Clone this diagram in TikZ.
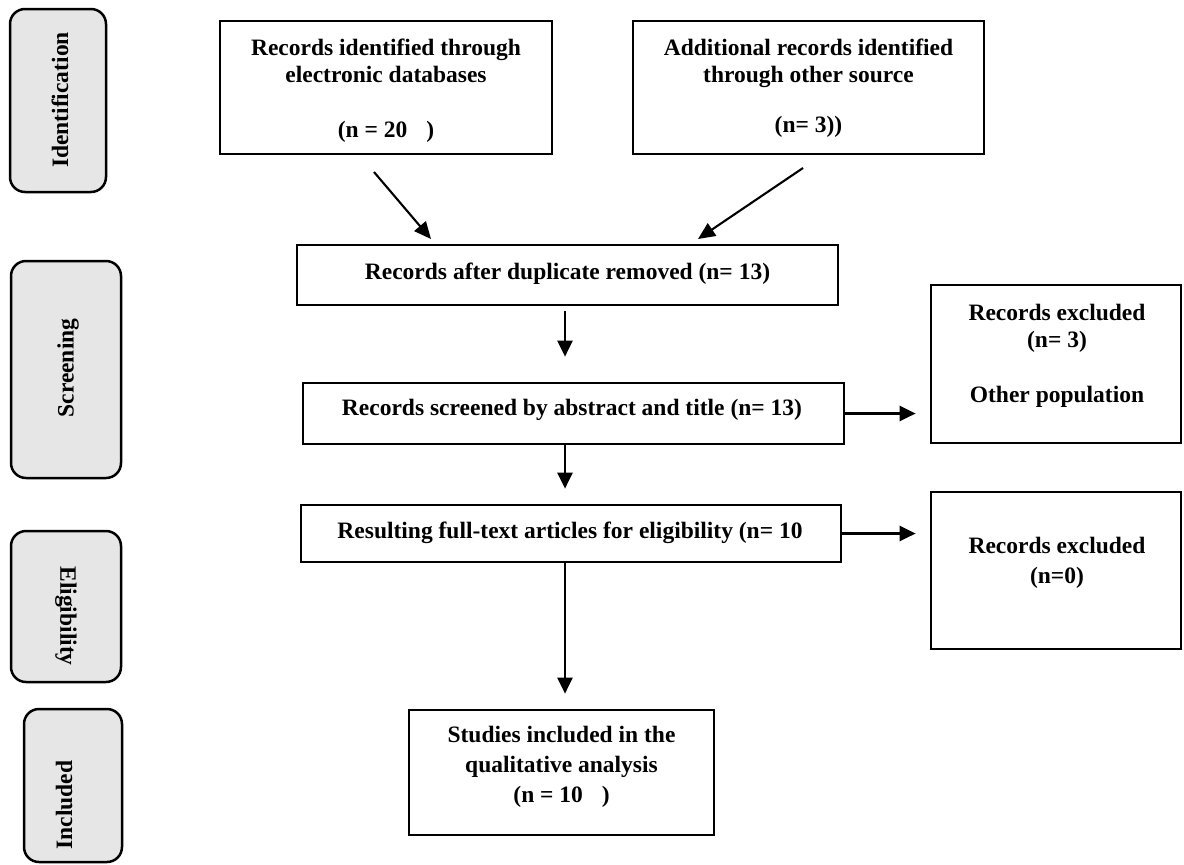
\documentclass[tikz,border=0pt]{standalone}
\usepackage{fontspec}
\setmainfont{Liberation Serif}
\usetikzlibrary{arrows.meta,calc}
\definecolor{lblgray}{HTML}{E6E6E6}
\begin{document}
\begin{tikzpicture}[x=1pt,y=-1pt,
  lbl/.style={draw=black, line width=2.5pt, fill=lblgray, rounded corners=15pt, inner sep=0pt},
  box/.style={draw=black, line width=2.7pt, inner sep=0pt},
  txt/.style={font=\fontsize{23.5}{28}\selectfont\bfseries, anchor=base, inner sep=0pt},
  ltxt/.style={font=\fontsize{23.5}{28}\selectfont\bfseries, inner sep=0pt},
  arr/.style={line width=2.6pt, -{Triangle[length=16pt,width=15pt]}},
  darr/.style={line width=2.1pt, -{Triangle[length=17pt,width=15pt]}}
]
\useasboundingbox (0,0) rectangle (1184,865);

% stage labels
\node[lbl, minimum width=96pt, minimum height=183pt] (ident) at (58,100.5) {};
\node[ltxt, rotate=90] (identt) at (60,100) {Identification};
\node[lbl, minimum width=110pt, minimum height=217pt] (screen) at (66,369.5) {};
\node[ltxt, rotate=90] (screent) at (68,368) {Screening};
\node[lbl, minimum width=110pt, minimum height=151pt] (elig) at (66,606.5) {};
\node[ltxt, rotate=-90] (eligt) at (66,616) {Eligibility};
\node[lbl, minimum width=98pt, minimum height=153pt] (incl) at (73,785.5) {};
\node[ltxt, rotate=90] (inclt) at (64,805) {Included};

% boxes
\node[box, minimum width=332pt, minimum height=133pt] (db) at (386,87.5) {};
\node[txt] (db1) at (386,55) {Records identified through};
\node[txt] (db2) at (386,82) {electronic databases};
\node[txt] (db3) at (386,137) {(n = 20\hspace{0.8em})};

\node[box, minimum width=351pt, minimum height=133pt] (add) at (808.5,87.5) {};
\node[txt] (add1) at (808.5,55) {Additional records identified};
\node[txt] (add2) at (808.5,82) {through other source};
\node[txt] (add3) at (808.5,132) {(n= 3))};

\node[box, minimum width=541pt, minimum height=60pt] (dup) at (567.5,275) {};
\node[txt] (dupt) at (567.5,279) {Records after duplicate removed (n= 13)};

\node[box, minimum width=541pt, minimum height=61pt] (scr) at (573.5,413.5) {};
\node[txt] (scrt) at (572,415) {Records screened by abstract and title (n= 13)};

\node[box, minimum width=540pt, minimum height=57pt] (full) at (571,533.5) {};
\node[txt] (fullt) at (570,538) {Resulting full-text articles for eligibility (n= 10};

\node[box, minimum width=250pt, minimum height=158pt] (ex1) at (1056,364) {};
\node[txt] (ex1a) at (1057,320) {Records excluded};
\node[txt] (ex1b) at (1057,347) {(n= 3)};
\node[txt] (ex1c) at (1057,402) {Other population};

\node[box, minimum width=250pt, minimum height=157pt] (ex2) at (1056,570.5) {};
\node[txt] (ex2a) at (1057,553) {Records excluded};
\node[txt] (ex2b) at (1057,583) {(n=0)};

\node[box, minimum width=305pt, minimum height=125pt] (stud) at (561.5,772.5) {};
\node[txt] (stud1) at (561.5,742) {Studies included in the};
\node[txt] (stud2) at (561.5,772) {qualitative analysis};
\node[txt] (stud3) at (561.5,802) {(n = 10\hspace{0.8em})};

% connectors
\coordinate (a1s) at (374,172);
\coordinate (a1e) at (431,239);
\coordinate (a2s) at (803,168);
\coordinate (a2e) at (698,239);
\coordinate (colx) at (565,0);
\draw[darr] (a1s) -- (a1e);
\draw[darr] (a2s) -- (a2e);
\draw[arr, shorten <=5pt, shorten >=25pt] (dup.south -| colx) -- (scr.north -| colx);
\draw[arr, shorten >=15pt] (scr.south -| colx) -- (full.north -| colx);
\draw[arr, shorten >=15pt] (full.south -| colx) -- (stud.north -| colx);
\draw[arr, shorten >=14pt] (scr.east) -- (scr.east -| ex1.west);
\draw[arr, shorten >=14pt] (full.east) -- (full.east -| ex2.west);
\end{tikzpicture}
\end{document}
